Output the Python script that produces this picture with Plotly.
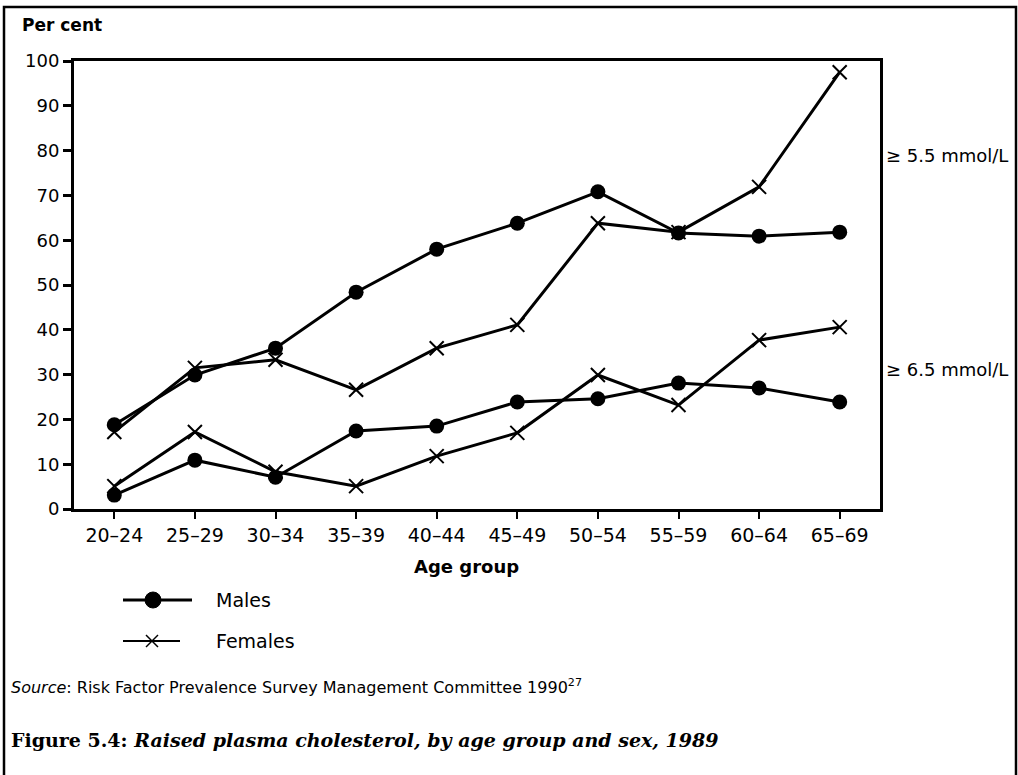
import plotly.graph_objects as go

age_groups = ["20–24", "25–29", "30–34", "35–39", "40–44", "45–49", "50–54", "55–59", "60–64", "65–69"]
males_55 = [18.8, 29.9, 35.9, 48.4, 58.0, 63.8, 70.8, 61.6, 60.9, 61.8]
females_55 = [17.2, 31.5, 33.3, 26.6, 35.9, 41.1, 63.8, 61.8, 71.9, 97.5]
males_65 = [3.1, 10.9, 7.1, 17.4, 18.5, 23.9, 24.6, 28.1, 27.0, 23.9]
females_65 = [5.1, 17.2, 8.3, 5.1, 11.8, 17.0, 29.9, 23.2, 37.7, 40.6]
y_ticks = [0, 10, 20, 30, 40, 50, 60, 70, 80, 90, 100]

W, H = 1018, 775
L, R, T, B = 74, 880, 61, 509  # plot area in pixels


def px(x):
    return (x - L) / (R - L)


def py(y):
    return (B - y) / (B - T)


SANS = "DejaVu Sans"
SERIF = "DejaVu Serif"

fig = go.Figure()

xs = list(range(len(age_groups)))
circle = dict(symbol="circle", size=15, color="black")
cross = dict(symbol="x-thin", size=14, color="black", line=dict(color="black", width=2))

for vals in (males_55, males_65):
    fig.add_trace(go.Scatter(x=xs, y=vals, mode="lines+markers",
                             line=dict(color="black", width=3), marker=circle,
                             showlegend=False, hoverinfo="skip"))
for vals in (females_55, females_65):
    fig.add_trace(go.Scatter(x=xs, y=vals, mode="lines+markers",
                             line=dict(color="black", width=3), marker=cross,
                             showlegend=False, hoverinfo="skip"))

fig.update_xaxes(range=[-0.5, 9.5], tickmode="array", tickvals=xs, ticktext=age_groups,
                 showline=True, linecolor="black", linewidth=3, mirror=True,
                 ticks="outside", ticklen=7, tickwidth=2, tickcolor="black",
                 showgrid=False, zeroline=False,
                 tickfont=dict(family=SANS, size=19, color="black"))
fig.update_yaxes(range=[0, 100], tickmode="array", tickvals=y_ticks,
                 showline=True, linecolor="black", linewidth=3, mirror=True,
                 ticks="outside", ticklen=8, tickwidth=3, tickcolor="black",
                 showgrid=False, zeroline=False,
                 tickfont=dict(family=SANS, size=18, color="black"))

shapes = []
# outer frame
shapes.append(dict(type="rect", xref="paper", yref="paper",
                   x0=px(4), x1=px(1016), y0=py(785), y1=py(7),
                   line=dict(color="black", width=2.5), fillcolor="rgba(0,0,0,0)", layer="below"))
# legend lines
shapes.append(dict(type="line", xref="paper", yref="paper",
                   x0=px(123), x1=px(192), y0=py(600), y1=py(600),
                   line=dict(color="black", width=3)))
shapes.append(dict(type="circle", xref="paper", yref="paper",
                   x0=px(145), x1=px(161), y0=py(592), y1=py(608),
                   line=dict(color="black", width=1), fillcolor="black"))
shapes.append(dict(type="line", xref="paper", yref="paper",
                   x0=px(123), x1=px(180), y0=py(641), y1=py(641),
                   line=dict(color="black", width=2)))
shapes.append(dict(type="line", xref="paper", yref="paper",
                   x0=px(146), x1=px(158), y0=py(635), y1=py(647),
                   line=dict(color="black", width=1.5)))
shapes.append(dict(type="line", xref="paper", yref="paper",
                   x0=px(146), x1=px(158), y0=py(647), y1=py(635),
                   line=dict(color="black", width=1.5)))

annotations = [
    dict(text="<b>Per cent</b>", x=px(20), y=py(25), xanchor="left", yanchor="middle",
         font=dict(family=SANS, size=17, color="black")),
    dict(text="<b>Age group</b>", x=px(466), y=py(566), xanchor="center", yanchor="middle",
         font=dict(family=SANS, size=18, color="black")),
    dict(text="≥ 5.5 mmol/L", x=px(884), y=py(155), xanchor="left", yanchor="middle",
         font=dict(family=SANS, size=18, color="black")),
    dict(text="≥ 6.5 mmol/L", x=px(884), y=py(369), xanchor="left", yanchor="middle",
         font=dict(family=SANS, size=18, color="black")),
    dict(text="Males", x=px(214), y=py(600), xanchor="left", yanchor="middle",
         font=dict(family=SANS, size=19, color="black")),
    dict(text="Females", x=px(214), y=py(641), xanchor="left", yanchor="middle",
         font=dict(family=SANS, size=19, color="black")),
    dict(text="<i>Source</i>: Risk Factor Prevalence Survey Management Committee 1990<sup>27</sup>",
         x=px(9), y=py(686), xanchor="left", yanchor="middle",
         font=dict(family=SANS, size=16, color="black")),
    dict(text="<b>Figure 5.4: <i>Raised plasma cholesterol, by age group and sex, 1989</i></b>",
         x=px(9), y=py(740), xanchor="left", yanchor="middle",
         font=dict(family=SERIF, size=19, color="black")),
]
for a in annotations:
    a.update(xref="paper", yref="paper", showarrow=False)

fig.update_layout(width=W, height=H, margin=dict(l=L, r=W - R, t=T, b=H - B),
                  paper_bgcolor="white", plot_bgcolor="white",
                  shapes=shapes, annotations=annotations, showlegend=False)

fig.write_html("out.html", config={"displayModeBar": False},
               post_script="document.body.style.margin='0';document.body.style.overflow='hidden';")
